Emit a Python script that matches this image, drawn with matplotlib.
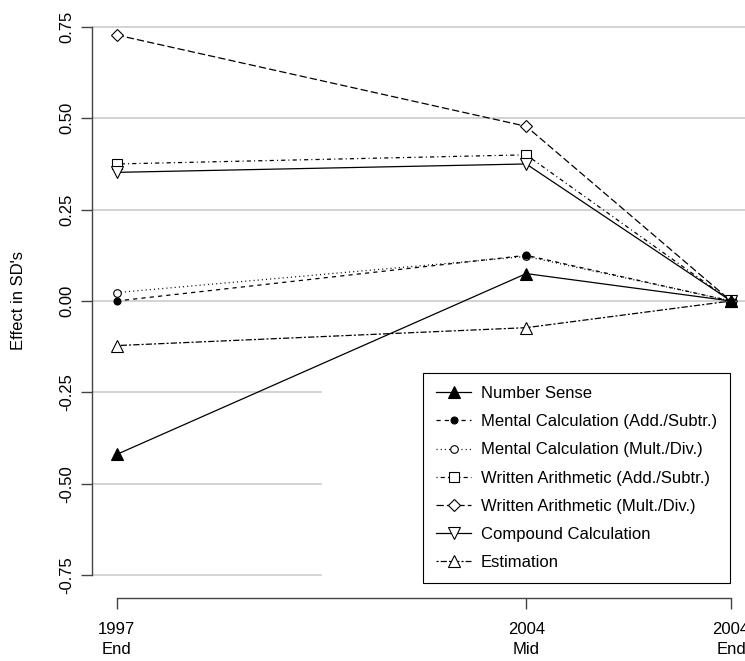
import matplotlib
matplotlib.use("Agg")
import matplotlib.pyplot as plt

plt.rcParams["font.family"] = ["Liberation Sans", "DejaVu Sans"]
plt.rcParams["lines.scale_dashes"] = False

x_pos = [0, 2, 3]
x_labels = ["1997\nEnd", "2004\nMid", "2004\nEnd"]
y_ticks = [-0.75, -0.5, -0.25, 0.0, 0.25, 0.5, 0.75]

number_sense = [-0.42, 0.075, 0.0]
mental_add = [0.0, 0.125, 0.0]
mental_mult = [0.023, 0.122, 0.0]
written_add = [0.375, 0.40, 0.0]
written_mult = [0.728, 0.478, 0.0]
compound = [0.352, 0.375, 0.0]
estimation = [-0.122, -0.073, 0.0]

# name, values, linestyle, marker, face colour, size, zorder
series = [
    ("Number Sense", number_sense, "-", "^", "black", 8, 5),
    ("Mental Calculation (Add./Subtr.)", mental_add, (0, (3, 3)), "o", "black", 5, 5),
    ("Mental Calculation (Mult./Div.)", mental_mult, (0, (0.75, 2.25)), "o", "white", 5.5, 3),
    ("Written Arithmetic (Add./Subtr.)", written_add, (0, (0.75, 2.25, 3, 2.25)), "s", "white", 6.5, 3),
    ("Written Arithmetic (Mult./Div.)", written_mult, (0, (5.25, 2.25)), "D", "white", 6.5, 3),
    ("Compound Calculation", compound, "-", "v", "white", 8, 3),
    ("Estimation", estimation, (0, (1.5, 1.5, 4.5, 1.5)), "^", "white", 8, 3),
]

fig = plt.figure(figsize=(7.45, 6.61), dpi=100)
ax = fig.add_axes([92 / 745, 1 - 597 / 661, (755.6 - 92) / 745, 592 / 661])
ax.set_xlim(-0.12, 3.12)
ax.set_ylim(-0.81, 0.81)

# grid: upper lines run across, lower ones stop at x=1
grid_c = "#c8c8c8"
for yv in y_ticks:
    xmax = 3.12 if yv >= 0 else 1.0
    ax.plot([-0.12, xmax], [yv, yv], color=grid_c, lw=1.1, zorder=0)

handles = []
for name, vals, ls, mk, fc, ms, z in series:
    h, = ax.plot(x_pos, vals, linestyle=ls, color="black", lw=0.9,
                 marker=mk, markersize=ms, markerfacecolor=fc,
                 markeredgecolor="black", markeredgewidth=0.8, label=name, zorder=z)
    handles.append(h)

for s in ["top", "right"]:
    ax.spines[s].set_visible(False)
ax.spines["left"].set_bounds(-0.75, 0.75)
ax.spines["bottom"].set_bounds(0, 3)
ax.spines["bottom"].set_position(("outward", 1))
for s in ["left", "bottom"]:
    ax.spines[s].set_color("#444444")
    ax.spines[s].set_linewidth(1.0)

ax.set_yticks(y_ticks)
ax.set_yticklabels([f"{v:.2f}" for v in y_ticks], rotation=90, va="center", fontsize=12)
ax.set_xticks(x_pos)
ax.set_xticklabels(x_labels, fontsize=12, linespacing=1.45)
ax.tick_params(axis="both", length=8, width=1.0, color="#444444", direction="out")
ax.tick_params(axis="y", pad=5)
ax.tick_params(axis="x", pad=9)

fig.text(19 / 745, 1 - 300 / 661, "Effect in SD's", rotation=90, ha="center",
         va="center", fontsize=12)

leg = ax.legend(handles=handles, loc="upper left",
                bbox_to_anchor=(423 / 745, 1 - 373 / 661), bbox_transform=fig.transFigure,
                borderaxespad=0, fontsize=12, frameon=True, fancybox=False,
                edgecolor="black", framealpha=1, borderpad=0.78, labelspacing=0.79,
                handlelength=2.1, handletextpad=0.6)
leg.get_frame().set_linewidth(0.8)

fig.savefig("out.png", dpi=100)
